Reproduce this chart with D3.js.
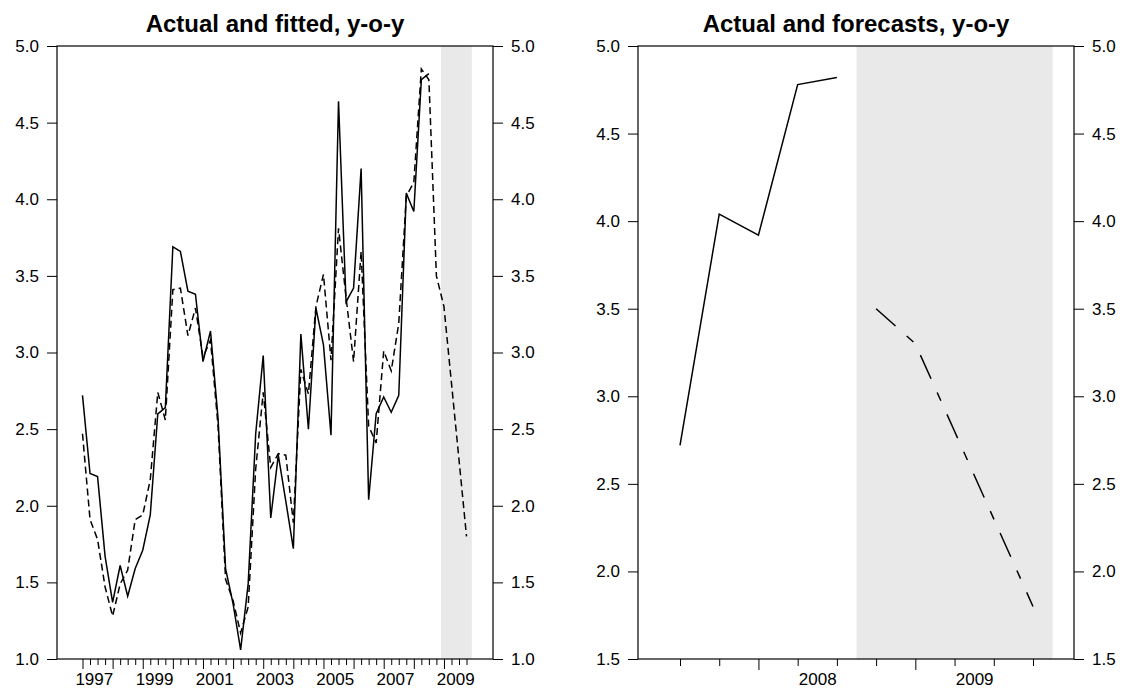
<!DOCTYPE html>
<html>
<head>
<meta charset="utf-8">
<script src="https://cdn.jsdelivr.net/npm/d3@7"></script>
<style>
  html, body { margin: 0; padding: 0; background: #fff; }
  svg { display: block; }
  text { font-family: "Liberation Sans", Arial, Helvetica, sans-serif; fill: #000; }
</style>
</head>
<body>
<svg id="chart" width="1134" height="691"></svg>
<script>
// ---------- DATA ----------
// Left panel: quarterly, index 0 = 1997Q1 ... index 51 = 2009Q4
const leftYearLabels = ["1997", "1999", "2001", "2003", "2005", "2007", "2009"];
const leftLabelQuarterIndex = [0, 8, 16, 24, 32, 40, 48]; // Q1 of each labelled year
const leftYearStartIndex = [0, 4, 8, 12, 16, 20, 24, 28, 32, 36, 40, 44, 48]; // Q1 of each year
const leftQuarterCount = 52;
const actualYoY = [
  2.72, 2.21, 2.19, 1.67, 1.37, 1.61, 1.41, 1.59, 1.71, 1.94,
  2.60, 2.64, 3.69, 3.66, 3.40, 3.38, 2.94, 3.14, 2.57, 1.59,
  1.36, 1.06, 1.49, 2.47, 2.98, 1.92, 2.33, 2.03, 1.72, 3.12,
  2.50, 3.29, 3.05, 2.46, 4.64, 3.33, 3.42, 4.20, 2.04, 2.60,
  2.71, 2.61, 2.72, 4.04, 3.92, 4.78, 4.82
];
const fittedYoY = [
  2.47, 1.91, 1.78, 1.47, 1.28, 1.49, 1.58, 1.91, 1.94, 2.17,
  2.74, 2.56, 3.41, 3.42, 3.11, 3.29, 2.97, 3.08, 2.52, 1.52,
  1.38, 1.17, 1.34, 2.24, 2.74, 2.25, 2.34, 2.33, 1.89, 2.89,
  2.73, 3.30, 3.51, 2.95, 3.81, 3.36, 2.94, 3.66, 2.52, 2.41,
  3.01, 2.88, 3.19, 4.02, 4.11, 4.85, 4.78, 3.50, 3.30, 2.80,
  2.30, 1.80
];
const leftShade = [47.6, 51.7];          // shaded forecast period (quarter index)
const leftYTicks = [1.0, 1.5, 2.0, 2.5, 3.0, 3.5, 4.0, 4.5, 5.0];
const leftYDomain = [1.0, 5.0];

// Right panel: quarterly, index 0 = 2007Q3 ... index 9 = 2009Q4
const rightQuarterCount = 10;
const rightYearLabels = ["2008", "2009"];
const rightLabelQuarterIndex = [2, 6];
const rightYearStartIndex = [2, 6];
const rightActual = [2.72, 4.04, 3.92, 4.78, 4.82];       // 2007Q3..2008Q3
const rightForecast = [3.50, 3.30, 2.80, 2.30, 1.80];     // 2008Q4..2009Q4
const rightForecastStart = 5;
const rightShade = [4.5, 9.5];
const rightYTicks = [1.5, 2.0, 2.5, 3.0, 3.5, 4.0, 4.5, 5.0];
const rightYDomain = [1.5, 5.0];

const titles = ["Actual and fitted, y-o-y", "Actual and forecasts, y-o-y"];

// ---------- LAYOUT ----------
const svg = d3.select("#chart");
const plotTop = 46, plotBottom = 659;
const fmt = d3.format(".1f");
const tickFont = "17px";

function drawPanel(p) {
  const g = svg.append("g");
  const x = d3.scaleLinear().domain([0, p.n - 1]).range(p.xRange);
  const y = d3.scaleLinear().domain(p.yDomain).range([plotBottom, plotTop]);

  // shaded band
  g.append("rect")
    .attr("x", x(p.shade[0]))
    .attr("y", plotTop)
    .attr("width", x(p.shade[1]) - x(p.shade[0]))
    .attr("height", plotBottom - plotTop)
    .attr("fill", "#e9e9e9");

  // y axes (left & right)
  const yl = g.append("g").attr("transform", `translate(${p.boxL},0)`)
    .call(d3.axisLeft(y).tickValues(p.yTicks).tickSize(10).tickPadding(8).tickFormat(fmt));
  const yr = g.append("g").attr("transform", `translate(${p.boxR},0)`)
    .call(d3.axisRight(y).tickValues(p.yTicks).tickSize(10).tickPadding(8).tickFormat(fmt));
  [yl, yr].forEach(a => {
    a.select(".domain").remove();
    a.selectAll("line").attr("stroke", "#000").attr("stroke-width", 1);
    a.selectAll("text").style("font-size", tickFont).attr("fill", "#000");
  });

  // x axis: minor ticks (every quarter), major ticks (Q1), labels centred on the year
  const allIdx = d3.range(p.n);
  const minor = g.append("g").attr("transform", `translate(0,${plotBottom})`)
    .call(d3.axisBottom(x).tickValues(allIdx.filter(i => !p.majorIdx.includes(i))).tickSize(p.minorLen).tickFormat(""));
  const major = g.append("g").attr("transform", `translate(0,${plotBottom})`)
    .call(d3.axisBottom(x).tickValues(p.majorIdx).tickSize(p.majorLen).tickFormat(""));
  const labels = g.append("g").attr("transform", `translate(0,${plotBottom})`)
    .call(d3.axisBottom(x).tickValues(p.labelIdx.map(i => i + 1.5)).tickSize(0).tickPadding(14)
      .tickFormat((d, i) => p.labelText[i]));
  [minor, major, labels].forEach(a => {
    a.select(".domain").remove();
    a.selectAll("line").attr("stroke", "#000").attr("stroke-width", 1);
  });
  labels.selectAll("text").style("font-size", tickFont).attr("fill", "#000");

  // series
  p.series.forEach(s => {
    const line = d3.line().x((d, i) => x(i + s.offset)).y(d => y(d));
    g.append("path")
      .datum(s.values)
      .attr("d", line)
      .attr("fill", "none")
      .attr("stroke", "#000")
      .attr("stroke-width", 1.5)
      .attr("stroke-dasharray", s.dash || null);
  });

  // frame
  g.append("rect")
    .attr("x", p.boxL).attr("y", plotTop)
    .attr("width", p.boxR - p.boxL).attr("height", plotBottom - plotTop)
    .attr("fill", "none").attr("stroke", "#000").attr("stroke-width", 1.2);

  // title
  g.append("text")
    .attr("x", (p.boxL + p.boxR) / 2)
    .attr("y", 32)
    .attr("text-anchor", "middle")
    .style("font-size", "24px")
    .style("font-weight", "bold")
    .text(p.title);
}

drawPanel({
  title: titles[0],
  n: leftQuarterCount,
  xRange: [82.5, 82.5 + 51 * 7.53],
  boxL: 57, boxR: 493,
  yDomain: leftYDomain, yTicks: leftYTicks,
  shade: leftShade,
  majorIdx: leftYearStartIndex, minorLen: 6, majorLen: 10,
  labelIdx: leftLabelQuarterIndex, labelText: leftYearLabels,
  series: [
    { values: fittedYoY, offset: 0, dash: "7,4" },
    { values: actualYoY, offset: 0 }
  ]
});

drawPanel({
  title: titles[1],
  n: rightQuarterCount,
  xRange: [680, 1033],
  boxL: 638, boxR: 1074,
  yDomain: rightYDomain, yTicks: rightYTicks,
  shade: rightShade,
  majorIdx: rightYearStartIndex, minorLen: 7, majorLen: 11,
  labelIdx: rightLabelQuarterIndex, labelText: rightYearLabels,
  series: [
    { values: rightActual, offset: 0 },
    { values: rightForecast, offset: rightForecastStart, dash: "26,15,9,15" }
  ]
});
</script>
</body>
</html>
